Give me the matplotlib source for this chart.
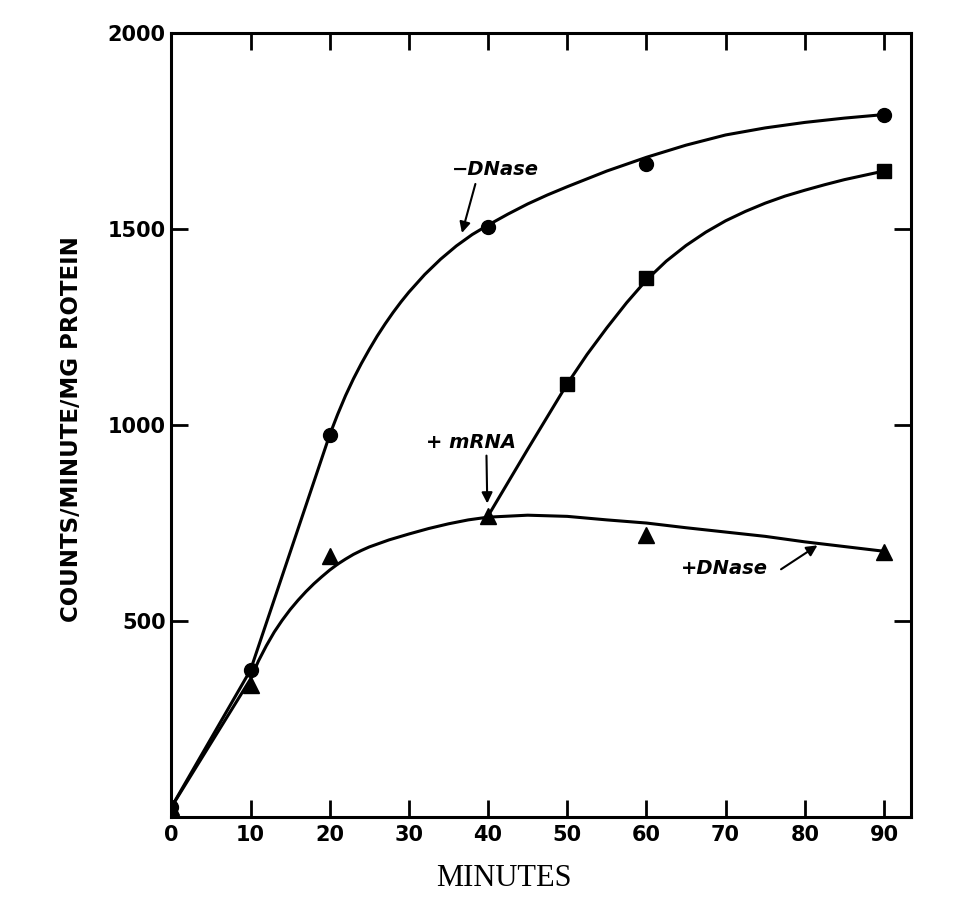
import matplotlib
matplotlib.use("Agg")
import matplotlib.pyplot as plt

# measured points (minutes, counts/minute/mg protein)
pt_minutes = [0, 10, 20, 40, 60, 90]
minus_dnase_pts = [25, 375, 975, 1505, 1665, 1792]
plus_dnase_pts = [25, 338, 665, 768, 720, 677]
mrna_minutes = [50, 60, 90]
mrna_pts = [1105, 1375, 1648]

# hand-drawn curves
minus_curve_t = [0, 10, 15, 20, 21, 22, 23, 24, 25, 26, 27, 28, 29, 30, 32, 34, 36, 38, 40,
                 42.5, 45, 47.5, 50, 55, 60, 65, 70, 75, 80, 85, 90]
minus_curve_v = [25, 375, 675, 975, 1027, 1075, 1118, 1157, 1193, 1227, 1258, 1287, 1314, 1339,
                 1384, 1423, 1457, 1486, 1510, 1538, 1564, 1587, 1608, 1648, 1683, 1714, 1740,
                 1758, 1772, 1783, 1792]
plus_curve_t = [0, 10, 11, 12, 13, 14, 15, 16, 17, 18, 19, 20, 21, 22, 23, 24, 25, 27.5, 30,
                32.5, 35, 37.5, 40, 45, 50, 55, 60, 65, 70, 75, 80, 85, 90]
plus_curve_v = [25, 352, 398, 437, 472, 502, 529, 553, 575, 595, 613, 630, 645, 658, 670, 680,
                689, 707, 722, 736, 748, 758, 765, 770, 767, 758, 750, 738, 727, 716, 702, 690, 678]
mrna_curve_t = [40, 45, 50, 52.5, 55, 57.5, 60, 62.5, 65, 67.5, 70, 72.5, 75, 77.5, 80, 82.5,
                85, 87.5, 90]
mrna_curve_v = [768, 938, 1105, 1180, 1248, 1312, 1370, 1418, 1458, 1492, 1521, 1545, 1566,
                1584, 1599, 1613, 1626, 1637, 1648]

x_ticks = [0, 10, 20, 30, 40, 50, 60, 70, 80, 90]
y_ticks = [500, 1000, 1500, 2000]

fig = plt.figure(figsize=(9.68, 9.18), dpi=100)
ax = fig.add_axes([0.177, 0.110, 0.764, 0.854])

lw = 2.2
for t, v in [(minus_curve_t, minus_curve_v), (plus_curve_t, plus_curve_v),
             (mrna_curve_t, mrna_curve_v)]:
    ax.plot(t, v, color="black", lw=lw, solid_capstyle="round", solid_joinstyle="round")

ax.plot(pt_minutes, minus_dnase_pts, "o", color="black", ms=10, ls="none")
ax.plot(pt_minutes, plus_dnase_pts, "^", color="black", ms=12, ls="none")
ax.plot(mrna_minutes, mrna_pts, "s", color="black", ms=10, ls="none")

ax.set_xlim(0, 93.4)
ax.set_ylim(0, 2000)
ax.set_xticks(x_ticks)
ax.set_yticks(y_ticks)

tick_font = dict(family="DejaVu Sans", weight="bold", size=15)
ax.set_xticklabels([str(t) for t in x_ticks], fontdict=tick_font)
ax.set_yticklabels([str(t) for t in y_ticks], fontdict=tick_font)
ax.tick_params(direction="in", length=12, width=2, top=True, right=True, pad=6)
ax.tick_params(axis="y", pad=4)
for sp in ax.spines.values():
    sp.set_linewidth(2.2)

ax.set_ylabel("COUNTS/MINUTE/MG PROTEIN", family="DejaVu Sans", weight="bold", size=16.5)
ax.yaxis.set_label_coords(-0.12, 0.495)
ax.set_xlabel("MINUTES", family="Liberation Serif", size=22)
ax.xaxis.set_label_coords(0.45, -0.06)

lab = dict(family="DejaVu Sans", weight="bold", style="oblique", size=14, va="center", ha="left")
arr = dict(arrowstyle="-|>", color="black", lw=1.5, mutation_scale=16, shrinkA=0, shrinkB=0)

ax.text(35.5, 1653, "\u2212DNase", **lab)
ax.annotate("", xy=(36.7, 1490), xytext=(38.4, 1615), arrowprops=arr)

ax.text(32.1, 955, "+ mRNA", **lab)
ax.annotate("", xy=(39.9, 800), xytext=(39.8, 922), arrowprops=arr)

ax.text(64.3, 634, "+DNase", **lab)
ax.annotate("", xy=(81.6, 693), xytext=(77.0, 632), arrowprops=arr)

fig.savefig("out.png", dpi=100)
